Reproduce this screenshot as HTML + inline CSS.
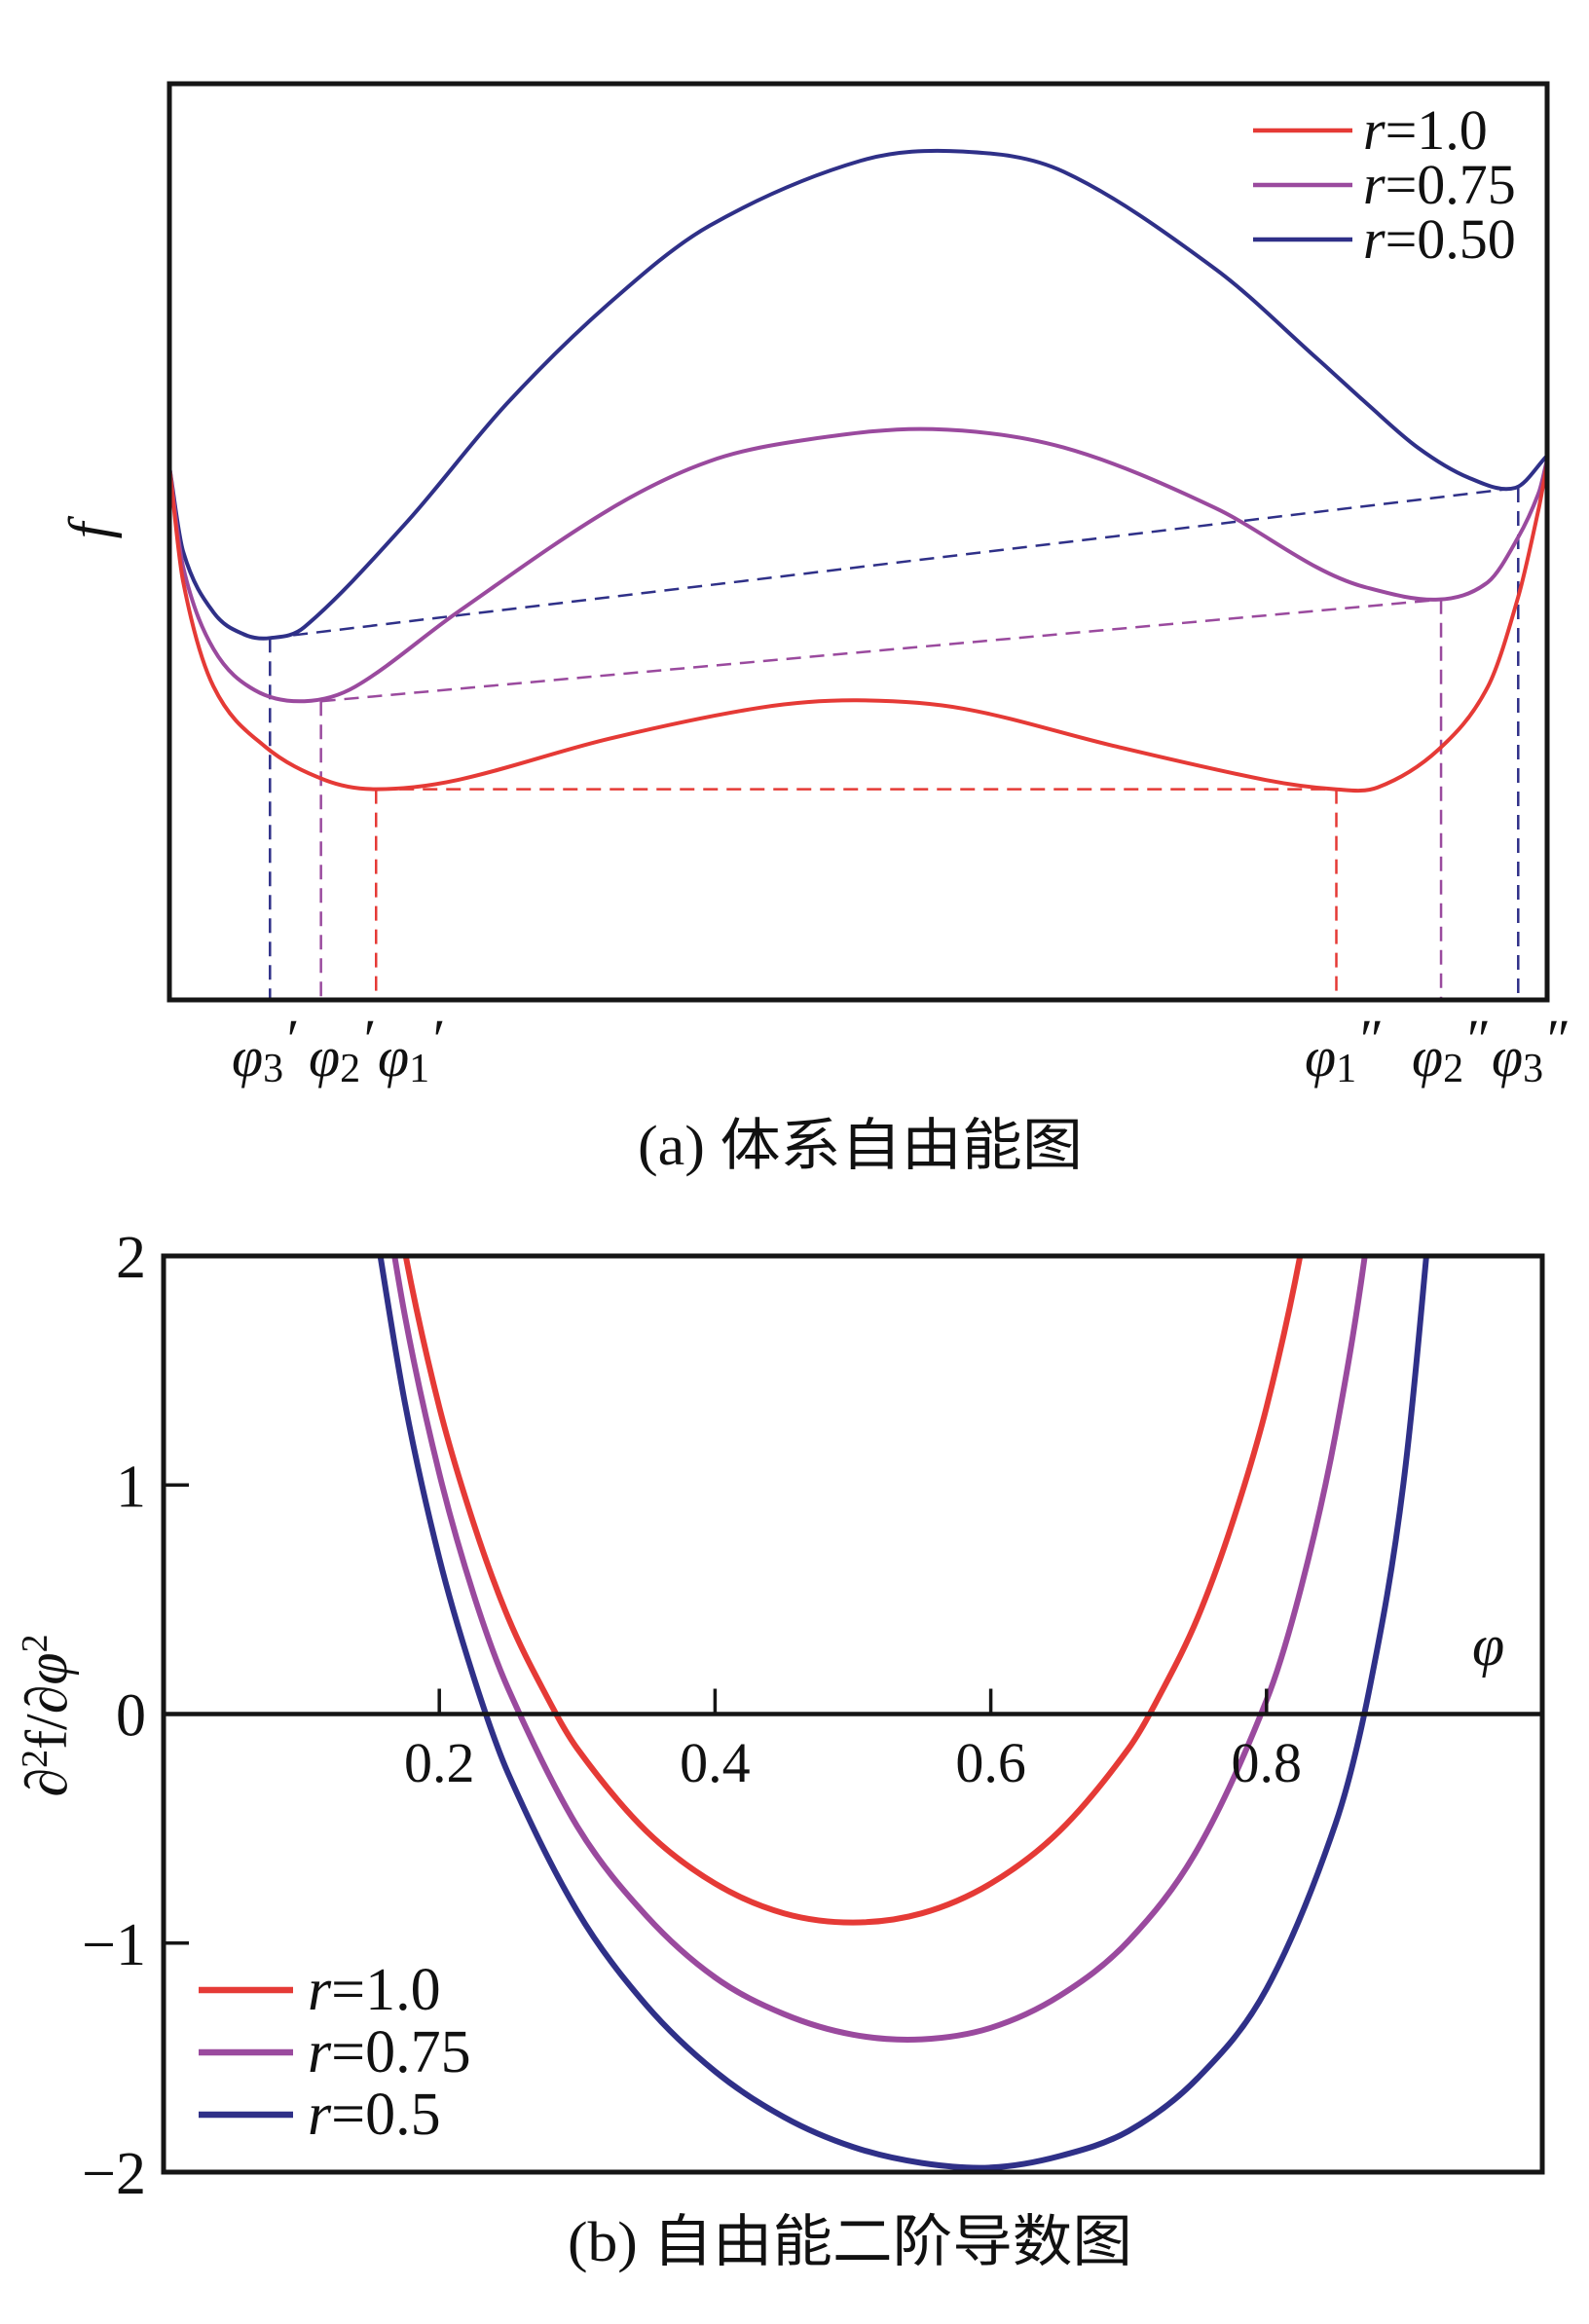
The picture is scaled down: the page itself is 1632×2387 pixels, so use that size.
<!DOCTYPE html>
<html><head><meta charset="utf-8"><style>
html,body{margin:0;padding:0;background:#fff;}
svg{display:block;}
text{font-family:"Liberation Serif","Noto Serif CJK SC",serif;fill:#111;}
.cj{font-family:"Liberation Serif","Noto Sans CJK SC",sans-serif;}
</style></head><body>
<svg id="fig" width="1632" height="2387" viewBox="0 0 1632 2387" xmlns="http://www.w3.org/2000/svg">
<g id="top"></g>
<g id="bot"></g>
</svg>
<script>
// ---------- Chart (a) data: normalized phi (0..1), f (0..10 arbitrary units) ----------
const fPhiRed = [0,0.010,0.032,0.069,0.113,0.150,0.209,0.319,0.429,0.499,0.576,0.686,0.796,0.846,0.877,0.921,0.957,0.979,0.994,1];
const fValRed = [5.82,4.56,3.42,2.77,2.40,2.30,2.40,2.85,3.19,3.27,3.18,2.77,2.40,2.30,2.32,2.73,3.42,4.40,5.37,5.86];
const fPhiPurple = [0,0.010,0.032,0.062,0.098,0.135,0.209,0.319,0.392,0.465,0.554,0.649,0.759,0.833,0.869,0.921,0.957,0.979,0.994,1];
const fValPurple = [5.82,4.72,3.83,3.38,3.26,3.42,4.23,5.35,5.88,6.12,6.23,6.03,5.37,4.72,4.50,4.37,4.56,5.05,5.54,5.90];
const fPhiBlue = [0,0.010,0.032,0.054,0.073,0.098,0.172,0.245,0.319,0.392,0.502,0.576,0.649,0.759,0.833,0.869,0.906,0.943,0.977,1];
const fValBlue = [5.82,4.89,4.23,3.99,3.95,4.07,5.21,6.51,7.60,8.45,9.16,9.26,9.04,7.98,7.00,6.51,6.03,5.70,5.59,5.94];
// common tangent endpoints [phi', f', phi'', f'']
const tangentRed = [0.150,2.30,0.847,2.30];
const tangentPurple = [0.110,3.26,0.923,4.37];
const tangentBlue = [0.073,3.95,0.979,5.59];
const topLegend = ["1.0","0.75","0.50"];

// ---------- Chart (b) data ----------
const dPhiRed = [0.15,0.175,0.2,0.225,0.25,0.275,0.3,0.35,0.4,0.45,0.5,0.55,0.6,0.65,0.7,0.725,0.75,0.775,0.8,0.825,0.85];
const dValRed = [2.93,2.02,1.34,0.83,0.42,0.11,-0.15,-0.51,-0.74,-0.87,-0.91,-0.87,-0.74,-0.51,-0.15,0.11,0.42,0.83,1.34,2.02,2.93];
const dPhiPurple = [0.15,0.175,0.2,0.225,0.25,0.3,0.35,0.4,0.45,0.5,0.55,0.6,0.65,0.7,0.75,0.8,0.825,0.85,0.875,0.9];
const dValPurple = [2.66,1.74,1.05,0.52,0.11,-0.49,-0.88,-1.15,-1.31,-1.40,-1.42,-1.37,-1.23,-0.99,-0.59,0.06,0.55,1.22,2.17,3.61];
const dPhiBlue = [0.15,0.175,0.2,0.225,0.25,0.3,0.35,0.4,0.45,0.5,0.55,0.6,0.65,0.7,0.75,0.8,0.85,0.875,0.9,0.925];
const dValBlue = [2.27,1.36,0.68,0.16,-0.26,-0.86,-1.27,-1.56,-1.76,-1.89,-1.96,-1.98,-1.93,-1.82,-1.59,-1.20,-0.48,0.12,1.04,2.59];
const yTicks = [2,1,0,-1,-2];
const yTickLabels = ["2","1","0","\u22121","\u22122"];
const xTicks = [0.2,0.4,0.6,0.8];
const xTickLabels = ["0.2","0.4","0.6","0.8"];
const botLegend = ["1.0","0.75","0.5"];

const NS="http://www.w3.org/2000/svg";
const RED="#e53a36", PUR="#9a4a9e", BLU="#2f3088";
function mk(parent,tag,attrs,txt){const e=document.createElementNS(NS,tag);for(const k in attrs)e.setAttribute(k,attrs[k]);if(txt!==undefined)e.textContent=txt;parent.appendChild(e);return e;}
function smooth(pts){
 const n=pts.length,m=[];
 for(let i=0;i<n;i++){
  const a=pts[Math.max(0,i-1)],b=pts[Math.min(n-1,i+1)];
  m.push((b[1]-a[1])/(b[0]-a[0]));
 }
 let d="M"+pts[0][0].toFixed(1)+","+pts[0][1].toFixed(1);
 for(let i=0;i<n-1;i++){
  const p1=pts[i],p2=pts[i+1],dx=(p2[0]-p1[0])/3;
  d+=" C"+(p1[0]+dx).toFixed(1)+","+(p1[1]+m[i]*dx).toFixed(1)+" "+(p2[0]-dx).toFixed(1)+","+(p2[1]-m[i+1]*dx).toFixed(1)+" "+p2[0].toFixed(1)+","+p2[1].toFixed(1);
 }
 return d;}

// ===== Chart (a) =====
const T=document.getElementById('top');
const aL=174,aR=1589,aT=86,aB=1027;
const ax=p=>aL+p*(aR-aL), ay=f=>aB-f/10*(aB-aT);
let e;
[[tangentRed,RED,"red"],[tangentPurple,PUR,"purple"],[tangentBlue,BLU,"blue"]].forEach(([t,c,n])=>{
 e=mk(T,'line',{x1:ax(t[0]),y1:ay(t[1]),x2:ax(t[2]),y2:ay(t[3]),stroke:c,'stroke-width':2.5,'stroke-dasharray':'15 9'});
 
 
 e=mk(T,'line',{x1:ax(t[0]),y1:ay(t[1]),x2:ax(t[0]),y2:aB,stroke:c,'stroke-width':2.5,'stroke-dasharray':'15 9'});
 
 
 e=mk(T,'line',{x1:ax(t[2]),y1:ay(t[3]),x2:ax(t[2]),y2:aB,stroke:c,'stroke-width':2.5,'stroke-dasharray':'15 9'});
 
 
});
[[fPhiBlue,fValBlue,BLU,"blue"],[fPhiPurple,fValPurple,PUR,"purple"],[fPhiRed,fValRed,RED,"red"]].forEach(([xs,ys,c,n])=>{
 e=mk(T,'path',{d:smooth(xs.map((p,i)=>[ax(p),ay(ys[i])])),fill:'none',stroke:c,'stroke-width':4});
 
 
});
e=mk(T,'rect',{x:aL,y:aT,width:aR-aL,height:aB-aT,fill:'none',stroke:'#151515','stroke-width':5});


[RED,PUR,BLU].forEach((c,i)=>{
 const y=134+i*56;
 e=mk(T,'line',{x1:1287,y1:y,x2:1389,y2:y,stroke:c,'stroke-width':4.5});
 
 
 e=mk(T,'text',{x:1400,y:y+19,'font-size':58});
 e.innerHTML='<tspan font-style="italic">r</tspan>='+topLegend[i];
 
 
});
e=mk(T,'text',{x:0,y:0,'font-size':60,'font-style':'italic',transform:'translate(112,545) rotate(-90)','text-anchor':'middle'},'f');


[[238,"3","\u2032"],[317,"2","\u2032"],[388,"1","\u2032"],[1340,"1","\u2033"],[1450,"2","\u2033"],[1532,"3","\u2033"]].forEach(([x,s,pr],i)=>{
 e=mk(T,'text',{x:x,y:1105,'font-size':58});
 e.innerHTML='<tspan font-style="italic">\u03c6</tspan><tspan font-size="42" dy="6">'+s+'</tspan><tspan dy="-24" font-size="58" font-style="italic">'+pr+'</tspan>';
 
 
});
e=mk(T,'text',{x:655,y:1196,'font-size':58,textLength:457,lengthAdjust:'spacingAndGlyphs',class:'cj'},'(a) 体系自由能图');



// ===== Chart (b) =====
const B=document.getElementById('bot');
const bL=168,bR=1584,bT=1290,bB=2231;
const bx=p=>bL+p*1416, by=v=>1760.5-v*235.25;
mk(B,'defs',{}).innerHTML='<clipPath id="clipb"><rect x="'+bL+'" y="'+bT+'" width="'+(bR-bL)+'" height="'+(bB-bT)+'"/></clipPath>';
[[dPhiRed,dValRed,RED,"red"],[dPhiPurple,dValPurple,PUR,"purple"],[dPhiBlue,dValBlue,BLU,"blue"]].forEach(([xs,ys,c,n])=>{
 e=mk(B,'path',{d:smooth(xs.map((p,i)=>[bx(p),by(ys[i])])),fill:'none',stroke:c,'stroke-width':6,'clip-path':'url(#clipb)'});
 
 
});
e=mk(B,'line',{x1:bL,y1:by(0),x2:bR,y2:by(0),stroke:'#151515','stroke-width':4.5});


e=mk(B,'rect',{x:bL,y:bT,width:bR-bL,height:bB-bT,fill:'none',stroke:'#151515','stroke-width':5});


yTicks.forEach((v,i)=>{
 if(v!==2&&v!==-2&&v!==0){e=mk(B,'line',{x1:bL,y1:by(v),x2:bL+26,y2:by(v),stroke:'#151515','stroke-width':3.5});
 
 }
 e=mk(B,'text',{x:bL-18,y:by(v)+22,'font-size':62,'text-anchor':'end'},yTickLabels[i]);
 
 
});
xTicks.forEach((p,i)=>{
 e=mk(B,'line',{x1:bx(p),y1:by(0),x2:bx(p),y2:by(0)-26,stroke:'#151515','stroke-width':3.5});
 
 
 e=mk(B,'text',{x:bx(p),y:1830,'font-size':58,'text-anchor':'middle'},xTickLabels[i]);
 
 
});
e=mk(B,'text',{x:1512,y:1710,'font-size':60,'font-style':'italic'},'\u03c6');


e=mk(B,'text',{x:0,y:0,'font-size':60,transform:'translate(68,1762) rotate(-90)','text-anchor':'middle'});
e.innerHTML='\u2202<tspan font-size="38" dy="-20">2</tspan><tspan dy="20">f/\u2202</tspan><tspan font-style="italic">\u03c6</tspan><tspan font-size="38" dy="-20">2</tspan>';


[RED,PUR,BLU].forEach((c,i)=>{
 const y=2044+i*64;
 e=mk(B,'line',{x1:204,y1:y,x2:301,y2:y,stroke:c,'stroke-width':6.5});
 
 
 e=mk(B,'text',{x:316,y:y+20,'font-size':62});
 e.innerHTML='<tspan font-style="italic">r</tspan>='+botLegend[i];
 
 
});
e=mk(B,'text',{x:583,y:2322,'font-size':58,textLength:580,lengthAdjust:'spacingAndGlyphs',class:'cj'},'(b) 自由能二阶导数图');


</script>
</body></html>
